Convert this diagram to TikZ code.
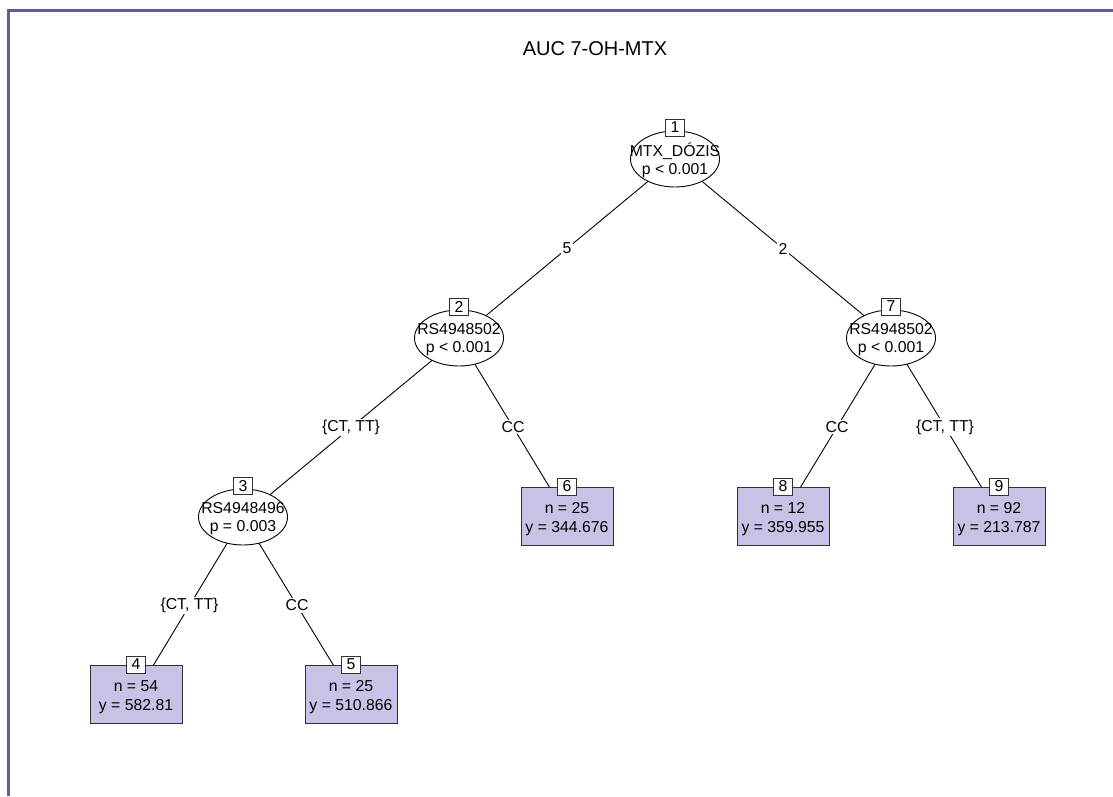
\documentclass[tikz,border=0pt]{standalone}
\usepackage{fontspec}
\setmainfont{Liberation Sans}
\usetikzlibrary{shapes.geometric,backgrounds}
\definecolor{framecol}{RGB}{108,88,150}
\definecolor{leaffill}{RGB}{200,194,230}
\begin{document}
\begin{tikzpicture}[x=1pt,y=-1pt,
  txt/.style={font=\fontsize{15.8}{18.5}\selectfont},
  innernode/.style={ellipse,draw,fill=white,minimum width=89pt,minimum height=56pt,inner sep=0pt,line width=0.9pt},
  innertext/.style={align=center,inner sep=0pt,txt},
  leafnode/.style={rectangle,draw=black!80,fill=leaffill,minimum width=92pt,minimum height=58pt,inner sep=0pt,line width=0.9pt},
  leaftext/.style={align=center,inner sep=0pt,font=\fontsize{15.8}{19}\selectfont},
  idbox/.style={rectangle,draw=black!80,fill=white,minimum width=19pt,minimum height=17pt,inner sep=0pt,txt,line width=0.9pt},
  elab/.style={fill=white,inner sep=1.5pt,txt},
  conn/.style={line width=0.9pt}]
\useasboundingbox (0,0) rectangle (1113,796);
\draw[framecol,line width=3pt] (8.5,796) -- (8.5,10.5) -- (1113,10.5);
\node[font=\fontsize{20}{24}\selectfont] (title) at (595,49) {AUC 7-OH-MTX};
% inner nodes
\node[innernode] (n1) at (675,159) {};
\node[innernode] (n2) at (459,338) {};
\node[innernode] (n7) at (891,338) {};
\node[innernode] (n3) at (243,517) {};
\node[innertext] (t1) at ([yshift=-1.5pt]n1.center) {MTX\_DÓZIS\\p < 0.001};
\node[innertext] (t2) at ([yshift=-1.5pt]n2.center) {RS4948502\\p < 0.001};
\node[innertext] (t7) at ([yshift=-1.5pt]n7.center) {RS4948502\\p < 0.001};
\node[innertext] (t3) at ([yshift=-1.5pt]n3.center) {RS4948496\\p = 0.003};
% leaves
\node[leafnode] (n4) at (136,694) {};
\node[leafnode] (n5) at (351,694) {};
\node[leafnode] (n6) at (567,516) {};
\node[leafnode] (n8) at (783,516) {};
\node[leafnode] (n9) at (999,516) {};
\node[leaftext] (t4) at ([yshift=-3pt]n4.center) {n = 54\\y = 582.81};
\node[leaftext] (t5) at ([yshift=-3pt]n5.center) {n = 25\\y = 510.866};
\node[leaftext] (t6) at ([yshift=-3pt]n6.center) {n = 25\\y = 344.676};
\node[leaftext] (t8) at ([yshift=-3pt]n8.center) {n = 12\\y = 359.955};
\node[leaftext] (t9) at ([yshift=-3pt]n9.center) {n = 92\\y = 213.787};
% id boxes
\node[idbox] (b1) at ([yshift=3pt]n1.north) {1};
\node[idbox] (b2) at ([yshift=3pt]n2.north) {2};
\node[idbox] (b7) at ([yshift=3pt]n7.north) {7};
\node[idbox] (b3) at ([yshift=3pt]n3.north) {3};
\node[idbox] (b4) at (n4.north) {4};
\node[idbox] (b5) at (n5.north) {5};
\node[idbox] (b6) at (n6.north) {6};
\node[idbox] (b8) at (n8.north) {8};
\node[idbox] (b9) at (n9.north) {9};
% edges
\begin{scope}[on background layer]
\draw[conn] (n1.center) -- node[elab] {5} (n2.center);
\draw[conn] (n1.center) -- node[elab] {2} (n7.center);
\draw[conn] (n2.center) -- node[elab] {\{CT, TT\}} (n3.center);
\draw[conn] (n2.center) -- node[elab] {CC} (n6.center);
\draw[conn] (n7.center) -- node[elab] {CC} (n8.center);
\draw[conn] (n7.center) -- node[elab] {\{CT, TT\}} (n9.center);
\draw[conn] (n3.center) -- node[elab] {\{CT, TT\}} (n4.center);
\draw[conn] (n3.center) -- node[elab] {CC} (n5.center);
\end{scope}
\end{tikzpicture}
\end{document}
